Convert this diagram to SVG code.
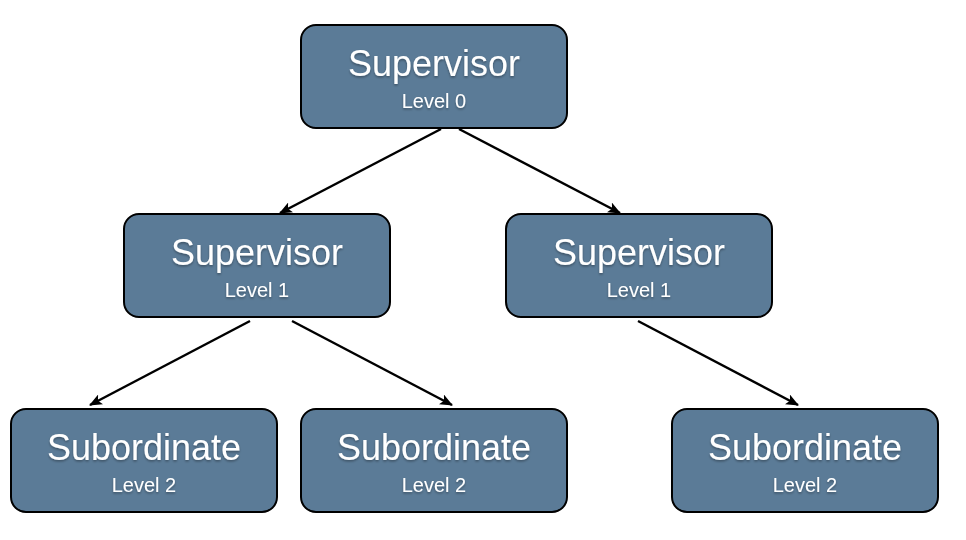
<svg xmlns="http://www.w3.org/2000/svg" width="966" height="540" viewBox="0 0 966 540">
<style>
.box{fill:#5b7b97;stroke:#000;stroke-width:2}
.t1{font-family:"Liberation Sans",Arial,sans-serif;font-size:36px;fill:#fff;text-anchor:middle}
.t2{font-family:"Liberation Sans",Arial,sans-serif;font-size:20px;fill:#fff;text-anchor:middle}
.edge{stroke:#000;stroke-width:2.5;fill:none;marker-end:url(#ah)}
</style>
<defs>
<marker id="ah" viewBox="0 0 13 11" refX="12" refY="5.5" markerWidth="13" markerHeight="11" markerUnits="userSpaceOnUse" orient="auto">
<path d="M0,0 L13,5.5 L0,11 L3,5.5 z" fill="#000"/>
</marker>
<filter id="sh" x="-10%" y="-10%" width="120%" height="130%">
<feDropShadow dx="0" dy="1.5" stdDeviation="1" flood-color="#000" flood-opacity="0.35"/>
</filter>
</defs>
<rect width="966" height="540" fill="#fff"/>
<g id="connectors">
<line class="edge" x1="441" y1="129" x2="280" y2="213"/>
<line class="edge" x1="459" y1="129" x2="620" y2="213"/>
<line class="edge" x1="250" y1="321" x2="90" y2="405"/>
<line class="edge" x1="292" y1="321" x2="452" y2="405"/>
<line class="edge" x1="638" y1="321" x2="798" y2="405"/>
</g>
<g id="n0">
<rect class="box" x="301" y="25" width="266" height="103" rx="15"/>
<text class="t1" x="434" y="76" filter="url(#sh)">Supervisor</text>
<text class="t2" x="434" y="108" filter="url(#sh)">Level 0</text>
</g>
<g id="n1">
<rect class="box" x="124" y="214" width="266" height="103" rx="15"/>
<text class="t1" x="257" y="265" filter="url(#sh)">Supervisor</text>
<text class="t2" x="257" y="297" filter="url(#sh)">Level 1</text>
</g>
<g id="n2">
<rect class="box" x="506" y="214" width="266" height="103" rx="15"/>
<text class="t1" x="639" y="265" filter="url(#sh)">Supervisor</text>
<text class="t2" x="639" y="297" filter="url(#sh)">Level 1</text>
</g>
<g id="n3">
<rect class="box" x="11" y="409" width="266" height="103" rx="15"/>
<text class="t1" x="144" y="460" filter="url(#sh)">Subordinate</text>
<text class="t2" x="144" y="492" filter="url(#sh)">Level 2</text>
</g>
<g id="n4">
<rect class="box" x="301" y="409" width="266" height="103" rx="15"/>
<text class="t1" x="434" y="460" filter="url(#sh)">Subordinate</text>
<text class="t2" x="434" y="492" filter="url(#sh)">Level 2</text>
</g>
<g id="n5">
<rect class="box" x="672" y="409" width="266" height="103" rx="15"/>
<text class="t1" x="805" y="460" filter="url(#sh)">Subordinate</text>
<text class="t2" x="805" y="492" filter="url(#sh)">Level 2</text>
</g>
</svg>
